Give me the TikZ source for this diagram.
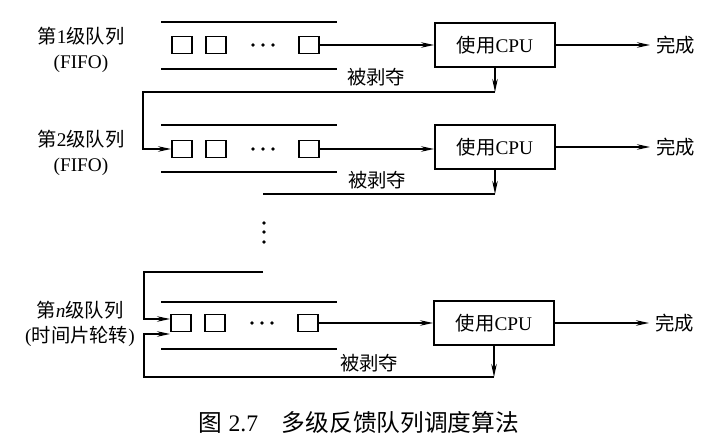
\documentclass[tikz,border=0pt]{standalone}
\usepackage{fontspec}
\setmainfont{Liberation Serif}
\newfontfamily\cjk{Noto Sans CJK SC}
\usetikzlibrary{arrows.meta}
\tikzset{
  qline/.style={line width=0.8pt},
  item/.style={draw,line width=1.1pt,minimum width=0.4cm,minimum height=0.34cm,inner sep=0pt},
  cpubox/.style={draw,line width=1.1pt,minimum width=2.4cm,minimum height=0.88cm,font=\fontsize{11}{13}\selectfont},
  txt/.style={font=\fontsize{11}{13}\selectfont},
  lbl/.style={align=center,font=\fontsize{11}{14}\selectfont},
  flow/.style={line width=0.8pt,-{Stealth[length=2.6mm,width=1.1mm]}},
}

\begin{document}
\begin{tikzpicture}[x=0.02cm,y=-0.02cm]
\useasboundingbox (0,0) rectangle (728,442);
% queue 1
\draw[qline] (161,22) -- (337,22);
\draw[qline] (161,69) -- (337,69);
\node[lbl] (l1) at (81,50) {{\cjk 第}1{\cjk 级队列}\\(FIFO)};
\node[item] (q1a) at (182,45) {};
\node[item] (q1b) at (216,45) {};
\node[item] (q1z) at (309,45) {};
\foreach \x in {253,263,273} \fill (\x,45) circle (1pt);
\node[cpubox] (cpu1) at (495,45) {{\cjk 使用}CPU};
\node[txt,anchor=west] (done1) at (650,45) {\cjk 完成};
\draw[flow] (q1z) -- (cpu1);
\draw[flow] (cpu1) -- (done1);
% queue 2
\draw[qline] (161,125) -- (337,125);
\draw[qline] (161,172) -- (337,172);
\node[lbl] (l2) at (81,153) {{\cjk 第}2{\cjk 级队列}\\(FIFO)};
\node[item] (q2a) at (182,149) {};
\node[item] (q2b) at (216,149) {};
\node[item] (q2z) at (309,149) {};
\foreach \x in {253,263,273} \fill (\x,149) circle (1pt);
\node[cpubox] (cpu2) at (495,147) {{\cjk 使用}CPU};
\node[txt,anchor=west] (done2) at (650,147) {\cjk 完成};
\draw[flow] (q2z) -- (q2z -| cpu2.west);
\draw[flow] (cpu2) -- (done2);
% preempted 1 -> queue 2
\coordinate (p1) at (495,92);
\coordinate (c1) at (143,92);
\node[txt] (b1) at (376,77) {\cjk 被剥夺};
\draw[flow] (cpu1.south) -- (p1);
\draw[flow] (p1) -- (c1) |- (q2a.west);
% preempted 2 -> ...
\coordinate (p2) at (495,194);
\coordinate (c2) at (263,194);
\node[txt] (b2) at (377,180) {\cjk 被剥夺};
\draw[flow] (cpu2.south) -- (p2);
\draw[qline] (p2) -- (c2);
\foreach \y in {223,232,242} \fill (264,\y) circle (1pt);
% queue n
\coordinate (c3) at (263,272);
\coordinate (c4) at (144,272);
\draw[qline] (161,302) -- (337,302);
\draw[qline] (161,349) -- (337,349);
\node[lbl] (l3) at (80,324) {{\cjk 第}\textit{n}{\cjk 级队列}\\({\cjk 时间片轮转})};
\node[item] (q3a) at (181,323) {};
\node[item] (q3b) at (215,323) {};
\node[item] (q3z) at (308,323) {};
\foreach \x in {252,262,272} \fill (\x,323) circle (1pt);
\node[cpubox] (cpu3) at (494,323) {{\cjk 使用}CPU};
\node[txt,anchor=west] (done3) at (649,323) {\cjk 完成};
\draw[flow] (q3z) -- (cpu3);
\draw[flow] (cpu3) -- (done3);
\draw[flow] (c3) -- (c4) |- ([yshift=0.08cm]q3a.west);
% preempted n -> back to queue n
\coordinate (p3) at (494,377);
\coordinate (c5) at (144,377);
\node[txt] (b3) at (369,363) {\cjk 被剥夺};
\draw[flow] (cpu3.south) -- (p3);
\draw[flow] (p3) -- (c5) |- ([yshift=-0.22cm]q3a.west);
% caption
\node[font=\fontsize{13.5}{16}\selectfont] (cap) at (359,422) {{\cjk 图} 2.7\quad{\cjk 多级反馈队列调度算法}};
\end{tikzpicture}
\end{document}
